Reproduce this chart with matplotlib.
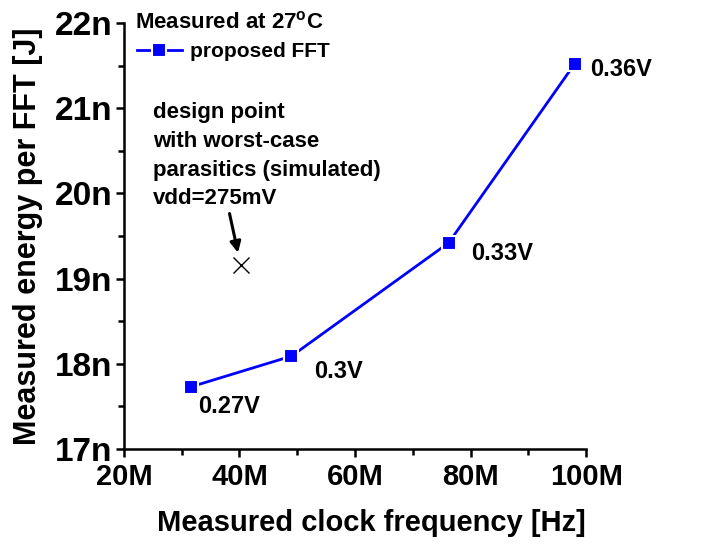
import matplotlib
matplotlib.use("Agg")
import matplotlib.pyplot as plt
from matplotlib.ticker import FuncFormatter, MultipleLocator

# measured points (clock freq in Hz, energy per FFT in J)
freq = [31.6e6, 49.0e6, 76.2e6, 98.0e6]
energy = [17.73e-9, 18.09e-9, 19.42e-9, 21.52e-9]
vdd_labels = ["0.27V", "0.3V", "0.33V", "0.36V"]
label_offsets = [(5, -14), (16, -11), (16, -8), (11, -4)]  # points

# simulated design point
design_freq = 40.2e6
design_energy = 19.16e-9

plt.rcParams["font.family"] = ["Liberation Sans", "DejaVu Sans"]
plt.rcParams["font.weight"] = "bold"
plt.rcParams["mathtext.fontset"] = "custom"
plt.rcParams["mathtext.rm"] = "Liberation Sans:bold"
plt.rcParams["mathtext.bf"] = "Liberation Sans:bold"

fig = plt.figure(figsize=(7.08, 5.44), dpi=100)
ax = fig.add_axes([0.175, 0.1746, 0.653, 0.7832])

ax.plot(freq, energy, color="blue", lw=2, marker="s", markersize=10,
        markerfacecolor="blue", markeredgecolor="white", markeredgewidth=1.5,
        label="proposed FFT")

for f, e, lab, off in zip(freq, energy, vdd_labels, label_offsets):
    ax.annotate(lab, xy=(f, e), xytext=off, textcoords="offset points",
                ha="left", va="center", fontsize=17, fontweight="bold")

ax.plot([design_freq], [design_energy], marker="x", color="black",
        markersize=11, markeredgewidth=1.0, linestyle="none")
ax.annotate("", xy=(design_freq, design_energy), xytext=(-8, 37),
            textcoords="offset points",
            arrowprops=dict(arrowstyle="-|>", color="black", lw=2.2,
                            mutation_scale=16, shrinkA=0, shrinkB=9))
ax.text(25.0e6, 21.07e-9,
        "design point\nwith worst-case\nparasitics (simulated)\nvdd=275mV",
        ha="left", va="top", fontsize=16, fontweight="bold", linespacing=1.48)

ax.set_xlim(20e6, 100e6)
ax.set_ylim(17e-9, 22e-9)
ax.xaxis.set_major_locator(MultipleLocator(20e6))
ax.xaxis.set_minor_locator(MultipleLocator(10e6))
ax.yaxis.set_major_locator(MultipleLocator(1e-9))
ax.yaxis.set_minor_locator(MultipleLocator(0.5e-9))
ax.xaxis.set_major_formatter(FuncFormatter(lambda v, p: "%dM" % round(v / 1e6)))
ax.yaxis.set_major_formatter(FuncFormatter(lambda v, p: "%dn" % round(v / 1e-9)))

for s in ["top", "right"]:
    ax.spines[s].set_visible(False)
for s in ["left", "bottom"]:
    ax.spines[s].set_linewidth(1.8)
ax.tick_params(which="major", direction="out", length=6, width=1.8, pad=2)
ax.tick_params(which="minor", direction="out", length=4, width=1.8)
ax.tick_params(axis="x", which="major", pad=4)
for lbl in ax.get_xticklabels():
    lbl.set_fontweight("bold")
    lbl.set_fontsize(21)
for lbl in ax.get_yticklabels():
    lbl.set_fontweight("bold")
    lbl.set_fontsize(24)

ax.set_xlabel("Measured clock frequency [Hz]", fontsize=21, fontweight="bold",
              labelpad=13)
ax.xaxis.label.set_x(0.535)
ax.set_ylabel("Measured energy per FFT [J]", fontsize=22, fontweight="bold",
              labelpad=9)

# legend: title drawn as plain text, entry below it
ax.text(0.024, 1.002, "Measured at 27$^{\\mathrm{o}}$C", transform=ax.transAxes,
        ha="left", va="center", fontsize=16, fontweight="bold")
leg = ax.legend(loc="center left", bbox_to_anchor=(0.028, 0.932),
                frameon=False, fontsize=15, handlelength=2.16,
                borderaxespad=0, borderpad=0, handletextpad=0.4)
for t in leg.get_texts():
    t.set_fontweight("bold")

fig.savefig("out.png", dpi=100)
